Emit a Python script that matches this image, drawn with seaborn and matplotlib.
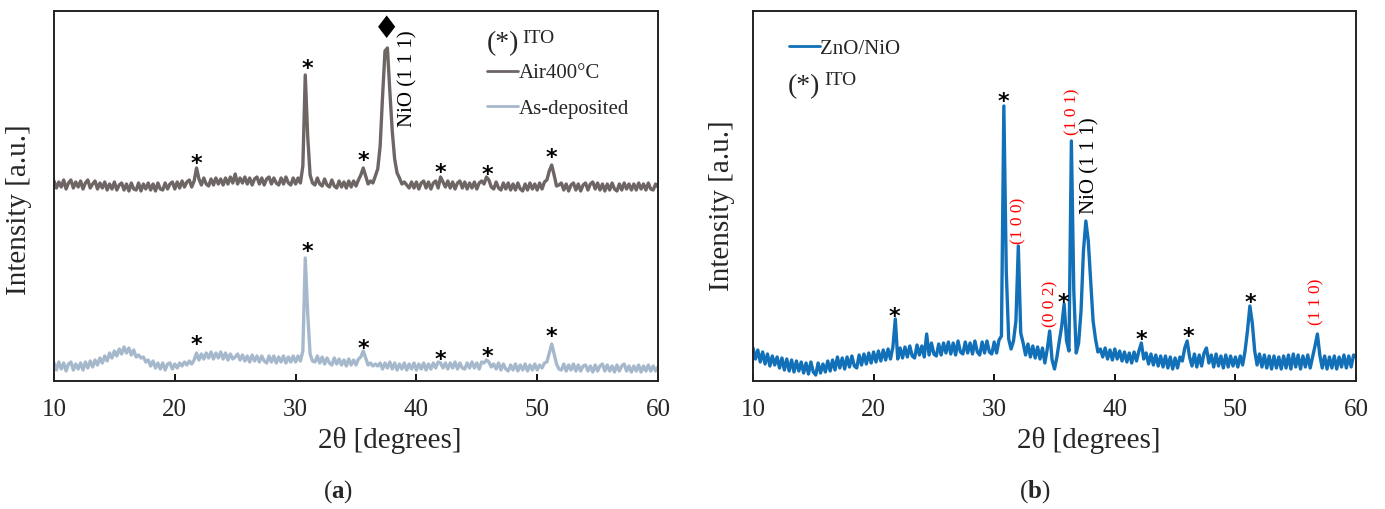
import numpy as np
import pandas as pd
import matplotlib
matplotlib.use("Agg")
import matplotlib.pyplot as plt
import seaborn as sns

# ---------------- data ----------------
# scan positions 2theta, 10..60 deg in 0.2 deg steps
two_theta = np.round(np.arange(10.0, 60.0001, 0.2), 1)

# panel (a): Air400C (upper trace), intensity in arbitrary units
air400 = [
    200, 193, 199, 194, 201, 192, 198, 201, 193, 199,
    194, 200, 192, 198, 201, 193, 197, 200, 192, 198,
    193, 199, 191, 197, 192, 199, 191, 196, 198, 191,
    197, 190, 198, 192, 191, 198, 190, 197, 192, 198,
    191, 197, 190, 198, 192, 191, 198, 192, 197, 199,
    192, 199, 193, 200, 194, 199, 201, 194, 200, 213,
    202, 196, 203, 197, 195, 202, 196, 203, 197, 202,
    196, 203, 197, 204, 198, 207, 197, 203, 198, 204,
    197, 203, 196, 202, 204, 197, 203, 196, 202, 204,
    197, 203, 198, 196, 203, 197, 204, 198, 196, 203,
    197, 203, 198, 215, 306, 245, 206, 198, 196, 203,
    197, 195, 202, 196, 194, 201, 195, 193, 200, 194,
    199, 193, 200, 194, 200, 195, 201, 206, 213, 205,
    197, 200, 198, 205, 212, 235, 285, 330, 333, 290,
    250, 222, 208, 203, 197, 199, 196, 193, 199, 193,
    199, 192, 198, 200, 193, 199, 192, 198, 200, 193,
    204, 199, 194, 200, 193, 199, 192, 198, 200, 193,
    199, 192, 198, 193, 199, 192, 198, 200, 197, 204,
    201, 194, 192, 199, 193, 191, 198, 192, 198, 191,
    197, 191, 198, 192, 190, 197, 191, 198, 192, 197,
    191, 198, 192, 199, 201, 210, 216, 206, 195, 196,
    198, 191, 197, 190, 196, 198, 191, 197, 190, 196,
    198, 191, 197, 199, 192, 198, 191, 197, 190, 197,
    191, 198, 192, 190, 197, 191, 198, 192, 197, 191,
    197, 191, 198, 192, 197, 191, 198, 192, 191, 197,
    194,
]

# panel (a): As-deposited (lower trace)
as_deposited = [
    18, 11, 19, 12, 18, 10, 17, 19, 11, 17,
    12, 18, 11, 19, 13, 20, 14, 21, 16, 23,
    18, 25, 20, 28, 23, 30, 25, 32, 27, 34,
    28, 33, 26, 31, 24, 26, 23, 24, 19, 21,
    15, 20, 13, 18, 12, 18, 11, 17, 18, 12,
    17, 13, 18, 15, 19, 16, 20, 17, 21, 28,
    21, 27, 22, 28, 23, 29, 22, 28, 23, 29,
    22, 28, 21, 27, 22, 24, 27, 21, 26, 20,
    25, 19, 26, 20, 25, 19, 25, 20, 18, 25,
    19, 25, 18, 24, 19, 25, 18, 24, 19, 25,
    19, 25, 20, 30, 123, 68, 27, 20, 19, 25,
    18, 24, 17, 23, 18, 16, 23, 17, 22, 16,
    21, 15, 22, 16, 21, 16, 22, 24, 30, 23,
    16, 18, 15, 17, 15, 18, 12, 18, 13, 19,
    12, 18, 11, 17, 12, 18, 11, 17, 12, 18,
    11, 17, 12, 18, 11, 17, 12, 18, 13, 19,
    18, 13, 18, 12, 18, 13, 19, 12, 18, 13,
    12, 18, 13, 19, 13, 18, 12, 19, 18, 21,
    19, 14, 17, 12, 18, 11, 17, 12, 10, 16,
    11, 17, 10, 16, 11, 17, 10, 16, 11, 17,
    11, 16, 13, 18, 19, 28, 37, 27, 17, 12,
    11, 17, 10, 16, 11, 17, 10, 16, 10, 15,
    16, 10, 15, 9, 16, 10, 15, 17, 10, 16,
    10, 15, 9, 16, 10, 15, 17, 10, 15, 9,
    15, 10, 16, 9, 15, 10, 16, 10, 15, 10,
    14,
]

# panel (b): ZnO/NiO
zno_nio = [
    33, 22, 31, 19, 29, 17, 27, 15, 25, 16,
    24, 13, 23, 11, 22, 10, 21, 9, 20, 10,
    19, 8, 18, 7, 19, 9, 6, 18, 8, 17,
    9, 20, 10, 21, 11, 24, 13, 23, 12, 24,
    14, 25, 15, 13, 26, 16, 27, 17, 28, 18,
    29, 19, 30, 20, 31, 21, 32, 22, 34, 62,
    22, 33, 23, 34, 24, 35, 25, 23, 36, 26,
    35, 24, 47, 26, 38, 27, 25, 37, 26, 38,
    28, 39, 27, 38, 26, 40, 29, 27, 39, 28,
    38, 27, 40, 29, 26, 39, 28, 40, 29, 27,
    39, 28, 41, 45, 275, 110, 42, 32, 40, 60,
    135, 48, 38, 26, 37, 24, 35, 23, 34, 22,
    33, 18, 32, 50, 21, 12, 24, 40, 55, 77,
    40, 30, 240, 90, 28, 38, 70, 130, 160, 140,
    100, 60, 42, 29, 32, 24, 33, 22, 31, 21,
    32, 22, 30, 20, 29, 19, 28, 18, 29, 20,
    30, 38, 22, 28, 17, 27, 16, 26, 15, 25,
    14, 25, 13, 24, 12, 23, 13, 24, 20, 33,
    40, 24, 15, 27, 14, 26, 15, 28, 33, 18,
    26, 14, 27, 15, 25, 13, 26, 14, 25, 15,
    24, 14, 25, 16, 30, 50, 75, 58, 30, 16,
    27, 14, 26, 13, 25, 12, 25, 13, 24, 12,
    25, 13, 26, 12, 27, 14, 26, 12, 25, 14,
    26, 13, 24, 35, 47, 26, 13, 25, 12, 24,
    13, 25, 12, 24, 14, 26, 13, 25, 14, 26,
    24,
]

# peak markers (ITO "*")
ito_x_a = [21.75, 30.95, 35.6, 42.0, 45.87, 51.14]
ito_y_air = [221, 316, 224, 212, 210, 227]
ito_y_asd = [40, 133, 36, 25, 28, 48]
ito_x_b = [21.76, 30.77, 35.74, 42.17, 46.1, 51.25]
ito_y_b = [68, 283, 82, 45, 48, 82]

# ZnO reflections (red) in panel b
zno_labels = ["(1 0 0)", "(0 0 2)", "(1 0 1)", "(1 1 0)"]
zno_lab_x = [32.02, 34.63, 36.45, 56.7]
zno_lab_y = [160, 77, 269, 79]

xticks = [10, 20, 30, 40, 50, 60]

df_a = pd.DataFrame({"two_theta": two_theta, "Air400°C": air400,
                     "As-deposited": as_deposited})
df_b = pd.DataFrame({"two_theta": two_theta, "ZnO/NiO": zno_nio})

# ---------------- style ----------------
sns.set_theme(style="white")
plt.rcParams["font.family"] = ["Liberation Serif", "DejaVu Serif", "DejaVu Sans"]
plt.rcParams["mathtext.fontset"] = "custom"
plt.rcParams["mathtext.bf"] = "Liberation Serif:bold"
plt.rcParams["mathtext.rm"] = "Liberation Serif"

c_air = "#6e6565"
c_asd = "#a6b9cc"
c_zno = "#1170b8"

fig = plt.figure(figsize=(13.85, 5.09), dpi=100)
ax_a = fig.add_axes([54 / 1385, 1 - 381 / 509, 604 / 1385, 370 / 509])
ax_b = fig.add_axes([753 / 1385, 1 - 381 / 509, 603 / 1385, 370 / 509])

lw = 2.4
sns.lineplot(data=df_a, x="two_theta", y="Air400°C", ax=ax_a, color=c_air,
             lw=lw, label="Air400°C")
sns.lineplot(data=df_a, x="two_theta", y="As-deposited", ax=ax_a, color=c_asd,
             lw=lw, label="As-deposited")
sns.lineplot(data=df_b, x="two_theta", y="ZnO/NiO", ax=ax_b, color=c_zno,
             lw=lw, label="ZnO/NiO")

for ax in (ax_a, ax_b):
    ax.set_xlim(10, 60)
    ax.set_ylim(0, 370)
    ax.set_xticks(xticks)
    ax.set_xticklabels([str(t) for t in xticks], fontsize=18)
    ax.set_yticks([])
    ax.tick_params(axis="x", direction="in", length=5, width=1.3,
                   color="black", pad=13, bottom=True)
    for s in ax.spines.values():
        s.set_color("#222222")
        s.set_linewidth(1.4)
    ax.set_xlabel("2θ [degrees]", fontsize=21)
    ax.set_ylabel("Intensity [a.u.]", fontsize=21)

ax_a.xaxis.set_label_coords(0.556, -0.125)
ax_b.xaxis.set_label_coords(0.557, -0.125)
ax_a.yaxis.set_label_coords(-0.036, 0.462)
ax_b.yaxis.set_label_coords(-0.03, 0.473)

# legends
leg_a = ax_a.legend(loc="upper left", bbox_to_anchor=(0.717, 0.857),
                    frameon=False, handlelength=1.5, handletextpad=0.0,
                    borderpad=0, borderaxespad=0, labelspacing=0.75,
                    prop={"size": 15})
leg_b = ax_b.legend(loc="upper left", bbox_to_anchor=(0.06, 0.924),
                    frameon=False, handlelength=1.5, handletextpad=0.0,
                    borderpad=0, borderaxespad=0, prop={"size": 15})
for leg in (leg_a, leg_b):
    for h in leg.get_lines():
        h.set_linewidth(2.0)

# "(*) ITO" keys
ax_a.text(0.743, 0.912, "(*)", transform=ax_a.transAxes, fontsize=20,
          ha="center", va="center")
ax_a.text(0.775, 0.926, "ITO", transform=ax_a.transAxes, fontsize=14,
          ha="left", va="center")
ax_b.text(0.085, 0.795, "(*)", transform=ax_b.transAxes, fontsize=20,
          ha="center", va="center")
ax_b.text(0.118, 0.812, "ITO", transform=ax_b.transAxes, fontsize=14,
          ha="left", va="center")

# ITO stars
star_kw = dict(fontsize=16, ha="center", va="center", fontweight="bold",
               family=["DejaVu Sans"], color="black")
for x, y in zip(ito_x_a, ito_y_air):
    ax_a.text(x, y - 4, "*", **star_kw)
for x, y in zip(ito_x_a, ito_y_asd):
    ax_a.text(x, y - 4, "*", **star_kw)
for x, y in zip(ito_x_b, ito_y_b):
    ax_b.text(x, y - 4, "*", **star_kw)

# NiO (111) markers
ax_a.text(37.51, 352, "♦", fontsize=22, ha="center", va="center",
          family=["DejaVu Sans"], color="black")
ax_a.text(39.3, 302, "NiO (1 1 1)", rotation=90, fontsize=15,
          ha="center", va="center", color="black")
ax_b.text(37.95, 215, "NiO (1 1 1)", rotation=90, fontsize=15,
          ha="center", va="center", color="black")

for lab, x, y in zip(zno_labels, zno_lab_x, zno_lab_y):
    ax_b.text(x, y, lab, rotation=90, fontsize=12.5, ha="center",
              va="center", color="red")

# panel captions
fig.text(338 / 1385, 1 - 492 / 509, r"($\mathbf{a}$)", fontsize=18,
         ha="center", va="center")
fig.text(1035 / 1385, 1 - 492 / 509, r"($\mathbf{b}$)", fontsize=18,
         ha="center", va="center")

fig.savefig("out.png", dpi=100)
